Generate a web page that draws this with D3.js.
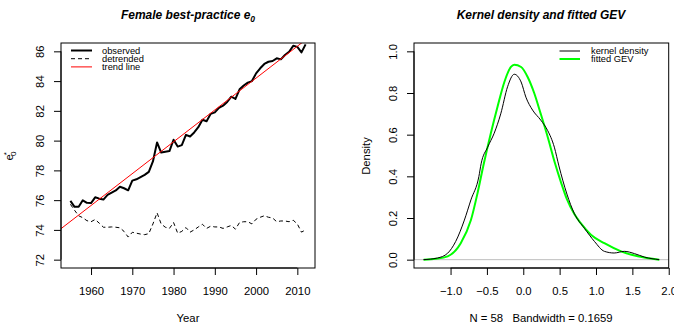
<!DOCTYPE html>
<html><head><meta charset="utf-8">
<script src="https://cdn.jsdelivr.net/npm/d3@7"></script>
<style>
body{margin:0;background:#fff}
svg{display:block}
text{font-family:"Liberation Sans",Arial,Helvetica,sans-serif;fill:#000}
</style>
</head><body>
<svg id="c" width="674" height="334"></svg>
<script>
// ---------- data ----------
const years = [1955,1956,1957,1958,1959,1960,1961,1962,1963,1964,1965,1966,1967,1968,1969,
  1970,1971,1972,1973,1974,1975,1976,1977,1978,1979,1980,1981,1982,1983,1984,1985,1986,1987,
  1988,1989,1990,1991,1992,1993,1994,1995,1996,1997,1998,1999,2000,2001,2002,2003,2004,2005,
  2006,2007,2008,2009,2010,2011,2012];
const observed = [75.95,75.55,75.55,75.99,75.82,75.80,76.19,76.10,76.04,76.35,76.50,76.65,76.90,76.80,76.66,
  77.31,77.40,77.55,77.70,77.90,78.60,79.88,79.20,79.25,79.30,80.06,79.60,79.70,80.39,80.28,80.55,80.90,81.40,
  81.30,81.80,81.90,82.20,82.35,82.60,82.95,82.80,83.45,83.70,83.90,84.00,84.52,84.86,85.15,85.30,85.35,85.53,
  85.46,85.75,85.97,86.37,86.30,85.93,86.47];
const detrended = [75.72,75.32,74.95,74.82,74.62,74.55,74.70,74.45,74.18,74.18,74.20,74.18,74.14,73.90,73.52,
  73.84,73.78,73.72,73.68,73.75,74.40,75.15,74.40,74.18,74.10,74.50,73.78,73.90,74.16,73.85,74.00,74.20,74.38,
  74.10,74.25,74.20,74.20,74.10,74.20,74.30,74.05,74.50,74.55,74.55,74.40,74.72,74.85,74.95,74.85,74.80,74.55,
  74.60,74.60,74.55,74.65,74.40,73.85,74.00];
const trendYears = [1955, 2012];
const trendValues = [74.57, 86.77];
const yLimL = [72, 86];
const xTicksL = [1960,1970,1980,1990,2000,2010];
const yTicksL = [72,74,76,78,80,82,84,86];
const legendL = ["observed","detrended","trend line"];

const kdeX = [-1.373,-1.18,-1.04,-0.93,-0.81,-0.72,-0.61,-0.58,-0.49,-0.40,-0.31,-0.216,-0.124,-0.03,0.036,
  0.128,0.24,0.335,0.427,0.49,0.60,0.70,0.84,0.98,1.115,1.25,1.39,1.53,1.67,1.87];
const kdeY = [0,0.008,0.031,0.087,0.19,0.287,0.40,0.46,0.54,0.607,0.70,0.83,0.89,0.853,0.78,
  0.718,0.67,0.62,0.54,0.45,0.315,0.223,0.151,0.087,0.04,0.032,0.04,0.029,0.012,0];
const gevX = [-1.37,-1.2,-1.04,-0.86,-0.72,-0.63,-0.55,-0.446,-0.354,-0.26,-0.17,-0.124,-0.03,0.06,0.15,
  0.24,0.335,0.43,0.52,0.60,0.70,0.79,0.93,1.115,1.345,1.575,1.87];
const gevY = [0,0.004,0.016,0.079,0.19,0.318,0.45,0.607,0.734,0.853,0.925,0.936,0.925,0.877,0.80,
  0.70,0.59,0.47,0.37,0.29,0.22,0.175,0.12,0.079,0.04,0.016,0];
const yLimR = [0, 1];
const xTicksR = [-1.0,-0.5,0.0,0.5,1.0,1.5,2.0];
const yTicksR = [0.0,0.2,0.4,0.6,0.8,1.0];
const legendR = ["kernel density","fitted GEV"];
const nObs = 58, bandwidth = 0.1659;

// ---------- helpers ----------
const svg = d3.select("#c");
const FS = 11.3;
function pad(ext){const r=ext[1]-ext[0];return [ext[0]-0.04*r, ext[1]+0.04*r];}
function fmt1(v){return v.toFixed(1).replace("-", "\u2212");}

function frame(g, x, y, xt, yt, xf, yf){
  const [x0,x1]=x.range(), [y1,y0]=y.range();
  g.append("rect").attr("x",x0).attr("y",y0).attr("width",x1-x0).attr("height",y1-y0)
   .attr("fill","none").attr("stroke","#000").attr("stroke-width",1);
  const bx = g.append("g").attr("transform",`translate(0,${y1})`)
    .call(d3.axisBottom(x).tickValues(xt).tickSize(7).tickFormat(xf));
  bx.select(".domain").remove();
  bx.append("line").attr("x1",x(xt[0])).attr("x2",x(xt[xt.length-1])).attr("stroke","#000");
  bx.selectAll(".tick text").attr("font-size",FS).attr("dy",null).attr("y",27)
    .attr("font-family",null).attr("fill","#000");
  bx.selectAll(".tick line").attr("stroke","#000");
  bx.attr("font-family",null).attr("font-size",null);
  const ly = g.append("g").attr("transform",`translate(${x0},0)`)
    .call(d3.axisLeft(y).tickValues(yt).tickSize(7).tickFormat(yf));
  ly.select(".domain").remove();
  ly.append("line").attr("y1",y(yt[0])).attr("y2",y(yt[yt.length-1])).attr("stroke","#000");
  ly.selectAll(".tick line").attr("stroke","#000");
  ly.selectAll(".tick text").attr("font-size",FS).attr("x",null).attr("dy",null)
    .attr("transform","translate(-17,0) rotate(-90)").attr("text-anchor","middle")
    .attr("font-family",null).attr("fill","#000");
  ly.attr("font-family",null).attr("font-size",null);
}

// ---------- left panel ----------
const xL = d3.scaleLinear().domain(pad(d3.extent(years))).range([61,315]);
const yL = d3.scaleLinear().domain(pad(yLimL)).range([268,43]);
const gL = svg.append("g");
svg.append("clipPath").attr("id","clipL").append("rect")
  .attr("x",61).attr("y",43).attr("width",254).attr("height",225);

const lineL = d3.line().x((d,i)=>xL(years[i])).y(d=>yL(d));
gL.append("path").datum(detrended).attr("d",lineL).attr("fill","none")
  .attr("stroke","#000").attr("stroke-width",1).attr("stroke-dasharray","4,3");
gL.append("path").datum(observed).attr("d",lineL).attr("fill","none")
  .attr("stroke","#000").attr("stroke-width",2).attr("stroke-linejoin","round");
const slope = (trendValues[1]-trendValues[0])/(trendYears[1]-trendYears[0]);
const xdL = xL.domain();
gL.append("line").attr("clip-path","url(#clipL)")
  .attr("x1",xL(xdL[0])).attr("y1",yL(trendValues[0]+slope*(xdL[0]-trendYears[0])))
  .attr("x2",xL(xdL[1])).attr("y2",yL(trendValues[0]+slope*(xdL[1]-trendYears[0])))
  .attr("stroke","#ff0000").attr("stroke-width",1);

frame(gL, xL, yL, xTicksL, yTicksL, d3.format("d"), d3.format("d"));

const legStyles = [{c:"#000",w:2,da:null},{c:"#000",w:1,da:"4,3"},{c:"#ff0000",w:1,da:null}];
legendL.forEach((t,i)=>{
  const yy = 50.5 + i*8.2;
  gL.append("line").attr("x1",71).attr("x2",92).attr("y1",yy).attr("y2",yy)
    .attr("stroke",legStyles[i].c).attr("stroke-width",legStyles[i].w)
    .attr("stroke-dasharray",legStyles[i].da);
  gL.append("text").attr("x",102).attr("y",yy+3.3).attr("font-size",9.3).text(t);
});

const tL = gL.append("text").attr("x",188).attr("y",18.5).attr("text-anchor","middle")
  .attr("font-size",12).attr("font-weight","bold").attr("font-style","italic");
tL.append("tspan").text("Female best-practice e");
tL.append("tspan").attr("font-size",8.5).attr("dy",3).text("0");
gL.append("text").attr("x",188).attr("y",322).attr("text-anchor","middle").attr("font-size",FS).text("Year");
const yl = gL.append("text").attr("transform","translate(13,156) rotate(-90)").attr("text-anchor","middle")
  .attr("font-size",FS);
yl.append("tspan").text("e");
yl.append("tspan").attr("font-size",8).attr("dy",-4).attr("dx",-1).text("*");
yl.append("tspan").attr("font-size",8).attr("dy",7).attr("dx",-4).text("0");

// ---------- right panel ----------
const xR = d3.scaleLinear().domain(pad([d3.min(kdeX),d3.max(kdeX)])).range([414,668.7]);
const yR = d3.scaleLinear().domain(pad(yLimR)).range([268,43]);
const gR = svg.append("g");
gR.append("line").attr("x1",414).attr("x2",668.7).attr("y1",yR(0)).attr("y2",yR(0))
  .attr("stroke","#bebebe").attr("stroke-width",1);
const lineR = (xs)=>d3.line().curve(d3.curveMonotoneX).x((d,i)=>xR(xs[i])).y(d=>yR(d));
gR.append("path").datum(gevY).attr("d",lineR(gevX)).attr("fill","none")
  .attr("stroke","#00ff00").attr("stroke-width",2);
gR.append("path").datum(kdeY).attr("d",lineR(kdeX)).attr("fill","none")
  .attr("stroke","#000").attr("stroke-width",1);

frame(gR, xR, yR, xTicksR, yTicksR, fmt1, d3.format(".1f"));

const legR = [{c:"#000",w:1},{c:"#00ff00",w:2}];
legendR.forEach((t,i)=>{
  const yy = 51 + i*8;
  gR.append("line").attr("x1",559.5).attr("x2",580).attr("y1",yy).attr("y2",yy)
    .attr("stroke",legR[i].c).attr("stroke-width",legR[i].w);
  gR.append("text").attr("x",591).attr("y",yy+3.3).attr("font-size",9.3).text(t);
});

gR.append("text").attr("x",541).attr("y",18.5).attr("text-anchor","middle")
  .attr("font-size",12).attr("font-weight","bold").attr("font-style","italic")
  .text("Kernel density and fitted GEV");
gR.append("text").attr("x",541).attr("y",322).attr("text-anchor","middle").attr("font-size",FS)
  .attr("xml:space","preserve").text(`N = ${nObs}   Bandwidth = ${bandwidth}`);
gR.append("text").attr("transform","translate(370,156) rotate(-90)").attr("text-anchor","middle")
  .attr("font-size",FS).text("Density");
</script>
</body></html>
